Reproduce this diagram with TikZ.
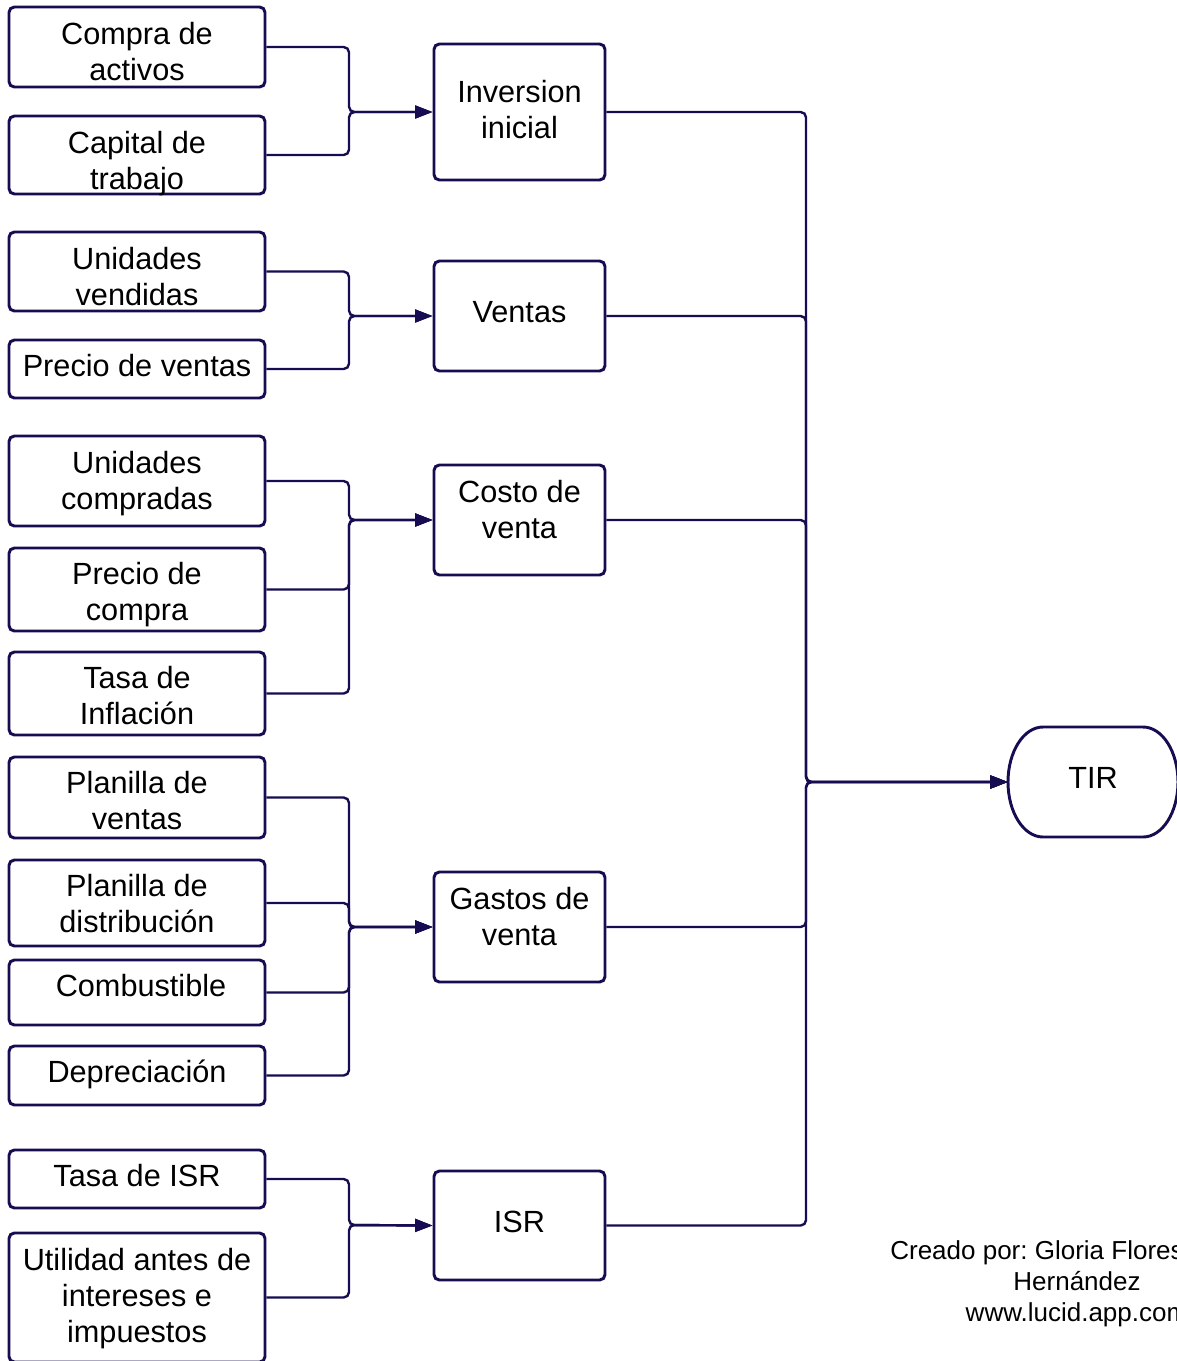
\documentclass[tikz,border=0pt]{standalone}
\usepackage{fontspec}
\setmainfont{Liberation Sans}
\usetikzlibrary{arrows.meta,calc}

\definecolor{navy}{RGB}{22,12,82}

% box from pixel corners (x1,y1)-(x2,y2); text offset (dx,dy) from the centre
\newcommand\pxbox[8]{%
  \pgfmathsetmacro\bxcx{(#2+#4)/2}%
  \pgfmathsetmacro\bxcy{(#3+#5)/2}%
  \pgfmathsetmacro\bxw{(#4-#2)*0.75}%
  \pgfmathsetmacro\bxh{(#5-#3)*0.75}%
  \node[pbox, minimum width=\bxw pt, minimum height=\bxh pt] (#1) at (\bxcx,\bxcy) {};%
  \node[ptext] (#1-t) at ($(\bxcx,\bxcy)+(#6,#7)$) {#8};%
}

\tikzset{
  pbox/.style={draw=navy, line width=2.2pt, rounded corners=4pt, inner sep=0pt},
  ptext/.style={inner sep=0pt, align=center, font=\fontsize{23pt}{27pt}\selectfont},
  conn/.style={draw=navy, line width=1.8pt, rounded corners=4pt,
    -{Triangle[length=13pt,width=9.5pt]}},
}

\begin{document}
\frenchspacing
\begin{tikzpicture}[x=0.75pt,y=-0.75pt]
\useasboundingbox (0,0) rectangle (1177,1361);

% input boxes
\pxbox{compra}{9}{7}{265}{87}{0}{5}{Compra de\\activos}
\pxbox{capital}{9}{116}{265}{194}{0}{9}{Capital de\\trabajo}
\pxbox{univ}{9}{232}{265}{311}{0}{5}{Unidades\\vendidas}
\pxbox{prev}{9}{340}{265}{398}{0}{-3}{Precio de ventas}
\pxbox{unic}{9}{436}{265}{526}{0}{3}{Unidades\\compradas}
\pxbox{prec}{9}{548}{265}{631}{0}{5}{Precio de\\compra}
\pxbox{infl}{9}{652}{265}{735}{0}{2}{Tasa de\\Inflación}
\pxbox{plv}{9}{757}{265}{838}{0}{3}{Planilla de\\ventas}
\pxbox{pld}{9}{860}{265}{946}{0}{1}{Planilla de\\distribución}
\pxbox{comb}{9}{960}{265}{1025}{4}{-7}{Combustible}
\pxbox{depr}{9}{1046}{265}{1105}{0}{-1}{Depreciación}
\pxbox{tisr}{9}{1150}{265}{1208}{0}{-3}{Tasa de ISR}
\pxbox{util}{9}{1233}{265}{1362}{0}{1}{Utilidad antes de\\intereses e\\impuestos}

% intermediate boxes
\pxbox{inv}{434}{44}{605}{180}{0}{-2}{Inversion\\inicial}
\pxbox{ven}{434}{261}{605}{371}{0}{-4}{Ventas}
\pxbox{cos}{434}{465}{605}{575}{0}{-10}{Costo de\\venta}
\pxbox{gas}{434}{872}{605}{982}{0}{-10}{Gastos de\\venta}
\pxbox{isr}{434}{1171}{605}{1280}{0}{-4}{ISR}

% result: terminator shape
\node[inner sep=0pt, minimum width=127.5pt, minimum height=82.5pt] (tir) at (1093,782) {};
\node[ptext] (tir-t) at (1093,778) {TIR};
\draw[navy, line width=2.2pt]
  (1043,727) -- (1143,727)
  arc[start angle=90, end angle=-90, x radius=26.25pt, y radius=41.25pt]
  -- (1043,837)
  arc[start angle=270, end angle=90, x radius=26.25pt, y radius=41.25pt]
  -- cycle;

% junction points
\coordinate (j1) at (349,112);
\coordinate (j2) at (349,316);
\coordinate (j3) at (349,520);
\coordinate (j4) at (349,927);
\coordinate (j5) at (349,1225);
\coordinate (bus) at (806,782);

% inputs to intermediate boxes
\draw[conn] (compra.east) -| (j1) -- (inv.west);
\draw[conn] (capital.east) -| (j1) -- (inv.west);
\draw[conn] (univ.east) -| (j2) -- (ven.west);
\draw[conn] (prev.east) -| (j2) -- (ven.west);
\draw[conn] (unic.east) -| (j3) -- (cos.west);
\draw[conn] (prec.east) -| (j3) -- (cos.west);
\draw[conn] (infl.east) -| (j3) -- (cos.west);
\draw[conn] (plv.east) -| (j4) -- (gas.west);
\draw[conn] (pld.east) -| (j4) -- (gas.west);
\draw[conn] (comb.east) -| (j4) -- (gas.west);
\draw[conn] (depr.east) -| (j4) -- (gas.west);
\draw[conn] (tisr.east) -| (j5) -- (isr.west);
\draw[conn] (util.east) -| (j5) -- (isr.west);

% intermediate boxes to result
\draw[conn] (inv.east) -| (bus) -- (tir.west);
\draw[conn] (ven.east) -| (bus) -- (tir.west);
\draw[conn] (cos.east) -| (bus) -- (tir.west);
\draw[conn] (gas.east) -| (bus) -- (tir.west);
\draw[conn] (isr.east) -| (bus) -- (tir.west);

% credit
\node[align=center, inner sep=0pt, font=\fontsize{19.5pt}{23.25pt}\selectfont] (credit) at (1077,1284)
  {Creado por: Gloria Flores\hspace*{60pt}\\Hernández\\www.lucid.app.com};
\end{tikzpicture}
\end{document}
